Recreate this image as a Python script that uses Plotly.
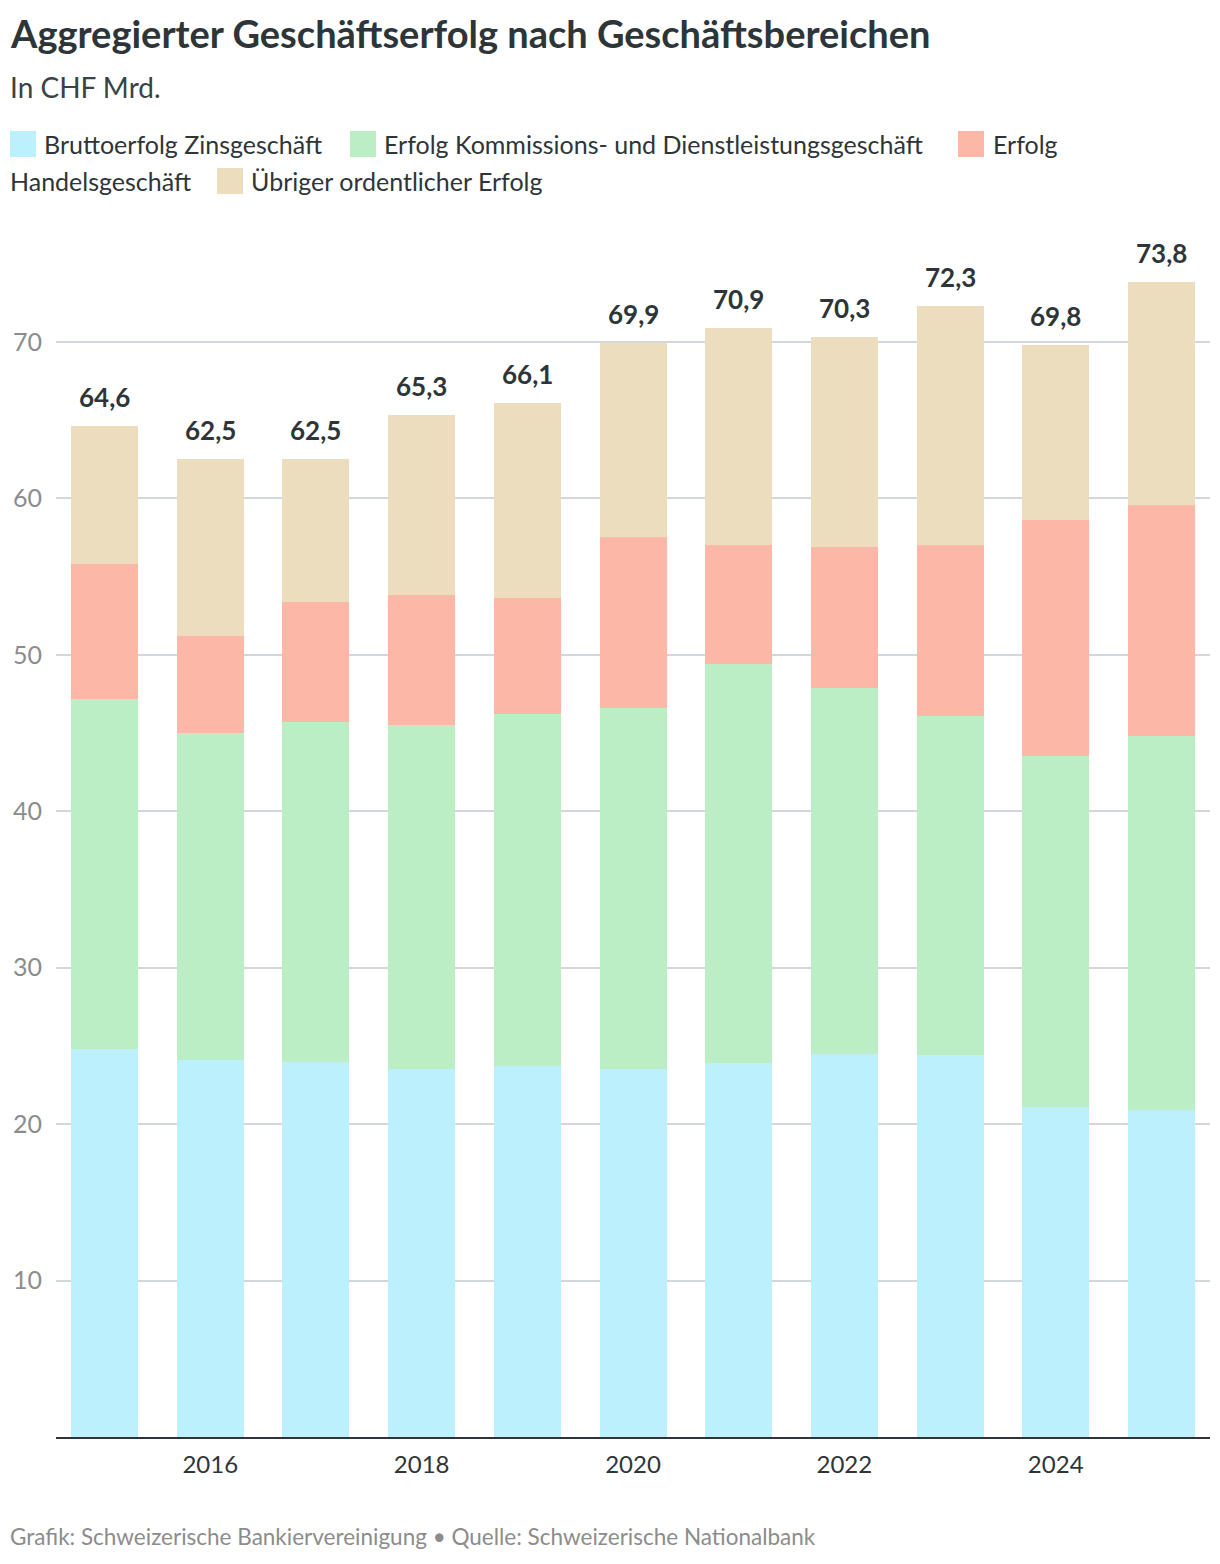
import plotly.graph_objects as go

years = [2015, 2016, 2017, 2018, 2019, 2020, 2021, 2022, 2023, 2024, 2025]
zins = [24.8, 24.1, 24.0, 23.5, 23.7, 23.5, 23.9, 24.5, 24.4, 21.1, 20.9]
kommission = [22.4, 20.9, 21.7, 22.0, 22.5, 23.1, 25.5, 23.4, 21.7, 22.4, 23.9]
handel = [8.6, 6.2, 7.7, 8.3, 7.4, 10.9, 7.6, 9.0, 10.9, 15.1, 14.8]
uebriger = [8.8, 11.3, 9.1, 11.5, 12.5, 12.4, 13.9, 13.4, 15.3, 11.2, 14.2]
totals = [64.6, 62.5, 62.5, 65.3, 66.1, 69.9, 70.9, 70.3, 72.3, 69.8, 73.8]

names = ["Bruttoerfolg Zinsgeschäft",
         "Erfolg Kommissions- und Dienstleistungsgeschäft",
         "Erfolg Handelsgeschäft",
         "Übriger ordentlicher Erfolg"]
colors = ["#bdf0fd", "#bbeec4", "#fdb7a7", "#ebddbe"]

W, H = 1220, 1564
OFF = 8  # page body margin
L, R, T, B = 48, 18, 222, 135
pw, ph = W - L - R, H - T - B
FONT = "Lato"
DARK = "#2d3538"
GREY = "#8c8c8c"


def px(x):
    return (x - OFF - L) / pw


def py(y):
    return (H - B - (y - OFF)) / ph


fig = go.Figure()
for name, vals, col in zip(names, [zins, kommission, handel, uebriger], colors):
    fig.add_trace(go.Bar(x=years, y=vals, name=name, marker_color=col,
                         marker_line_width=0, showlegend=False,
                         hovertemplate="%{x}: %{y:.1f}<extra>" + name + "</extra>"))

ann = []
for yr, tot in zip(years, totals):
    ann.append(dict(x=yr, y=tot, xref="x", yref="y", text="<b>" + f"{tot:.1f}".replace(".", ",") + "</b>",
                    showarrow=False, yanchor="bottom", yshift=11,
                    font=dict(family=FONT, size=26, color=DARK)))

# title, subtitle, footer
ann.append(dict(x=px(8), y=py(33), xref="paper", yref="paper", xanchor="left", yanchor="middle",
                text="<b>Aggregierter Geschäftserfolg nach Geschäftsbereichen</b>", showarrow=False,
                font=dict(family=FONT, size=38, color=DARK)))
ann.append(dict(x=px(8), y=py(87), xref="paper", yref="paper", xanchor="left", yanchor="middle",
                text="In CHF Mrd.", showarrow=False, font=dict(family=FONT, size=28, color="#3a4245")))
ann.append(dict(x=px(8), y=py(1536), xref="paper", yref="paper", xanchor="left", yanchor="middle",
                text="Grafik: Schweizerische Bankiervereinigung • Quelle: Schweizerische Nationalbank",
                showarrow=False, font=dict(family=FONT, size=22.5, color=GREY)))

# manual legend (wraps inside the third label like the original)
legend_items = [
    (10, 144, 42, names[0], colors[0]),
    (350, 144, 382, "Erfolg Kommissions- und Dienstleistungsgeschäft", colors[1]),
    (958, 144, 991, "Erfolg", colors[2]),
    (217, 181, 249, names[3], colors[3]),
]
shapes = []
for sx, cy, tx, label, col in legend_items:
    shapes.append(dict(type="rect", xref="paper", yref="paper",
                       x0=px(sx), x1=px(sx + 26), y0=py(cy + 13), y1=py(cy - 13),
                       fillcolor=col, line_width=0))
    ann.append(dict(x=px(tx), y=py(cy), xref="paper", yref="paper", xanchor="left", yanchor="middle",
                    text=label, showarrow=False, font=dict(family=FONT, size=25, color=DARK)))
ann.append(dict(x=px(8), y=py(181), xref="paper", yref="paper", xanchor="left", yanchor="middle",
                text="Handelsgeschäft", showarrow=False, font=dict(family=FONT, size=25, color=DARK)))

fig.update_layout(
    width=W, height=H, barmode="stack", bargap=0.366,
    margin=dict(l=L, r=R, t=T, b=B),
    paper_bgcolor="white", plot_bgcolor="white",
    font=dict(family=FONT, color=DARK),
    annotations=ann, shapes=shapes,
    xaxis=dict(range=[2014.54, 2025.46], tickvals=[2016, 2018, 2020, 2022, 2024],
               showgrid=False, showline=True, linecolor="#2d3538", linewidth=2,
               ticks="", tickfont=dict(family=FONT, size=24, color=DARK), ticklabelstandoff=5,
               automargin=False),
    yaxis=dict(range=[0, 77.15], tickvals=[10, 20, 30, 40, 50, 60, 70],
               showgrid=True, gridcolor="#d3d6da", gridwidth=1.5, zeroline=False,
               ticks="", tickfont=dict(family=FONT, size=25, color=GREY), ticklabelstandoff=13,
               automargin=False),
)

fig.write_html("out.html")
